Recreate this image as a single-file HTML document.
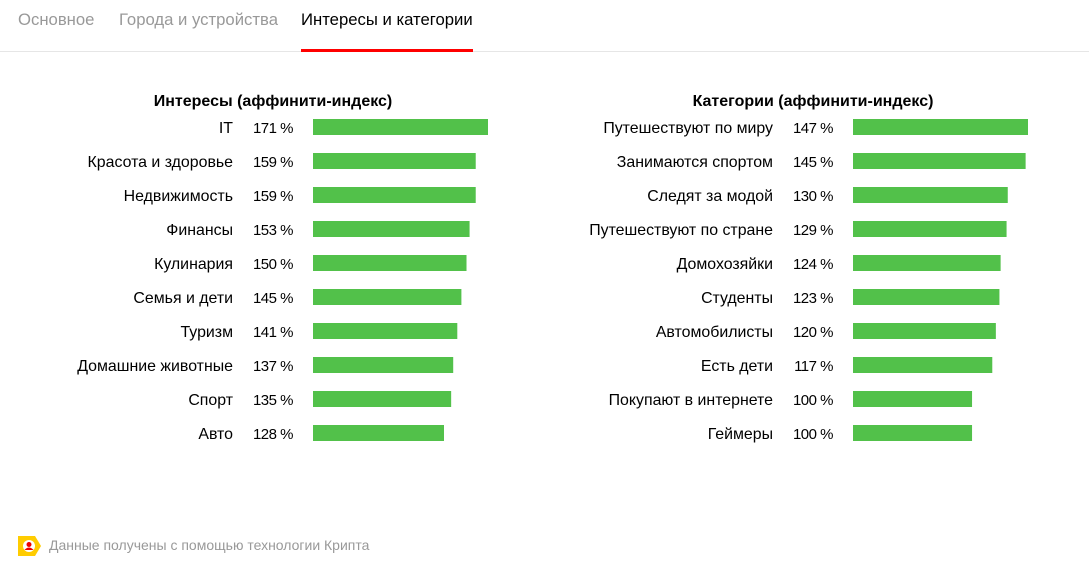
<!DOCTYPE html>
<html><head><meta charset="utf-8"><style>
body{margin:0;width:1089px;height:565px;background:#fff;font-family:"Liberation Sans",sans-serif;position:relative;overflow:hidden}
.tab{position:absolute;top:10px;font-size:16.7px;color:#999}
</style></head><body>
<div class="tab" style="left:18px">Основное</div>
<div class="tab" style="left:119px">Города и устройства</div>
<div class="tab" style="left:301px;color:#000">Интересы и категории</div>
<div style="position:absolute;left:0;top:51px;width:1089px;height:1px;background:#e6e6e6"></div>
<div style="position:absolute;left:301px;top:49px;width:172px;height:3px;background:#f00"></div>
<svg id="chart" width="1089" height="565" style="position:absolute;left:0;top:0"></svg>
<div style="position:absolute;left:18px;top:536px;width:20px;height:20px">
<svg width="24" height="20"><polygon points="0,0 17,0 23,10 17,20 0,20" fill="#fc0"/><circle cx="11" cy="10" r="6" fill="#fff"/><circle cx="11" cy="8.5" r="2.5" fill="#e00"/><path d="M6.5,14 Q11,9 15.5,14 Z" fill="#e00"/></svg></div>
<div style="position:absolute;left:49px;top:537px;font-size:14px;color:#999">Данные получены с помощью технологии Крипта</div>
<script>
const leftCats=["IT","Красота и здоровье","Недвижимость","Финансы","Кулинария","Семья и дети","Туризм","Домашние животные","Спорт","Авто"];
const leftVals=[171,159,159,153,150,145,141,137,135,128];
const rightCats=["Путешествуют по миру","Занимаются спортом","Следят за модой","Путешествуют по стране","Домохозяйки","Студенты","Автомобилисты","Есть дети","Покупают в интернете","Геймеры"];
const rightVals=[147,145,130,129,124,123,120,117,100,100];
const svg=document.getElementById('chart');
const NS='http://www.w3.org/2000/svg';
function mk(tag,attrs,txt){const e=document.createElementNS(NS,tag);for(const k in attrs)e.setAttribute(k,attrs[k]);if(txt!=null)e.textContent=txt;svg.appendChild(e);return e;}
function panel(title,cats,vals,labelX,pctX,barX,titleX,prefix){
  const mx=Math.max(...vals);
  const xs=v=>v/mx*175;
  const ys=i=>127+i*34;
  const t=mk('text',{x:titleX,y:106,'text-anchor':'middle','font-size':16,'font-weight':'bold','font-family':'Liberation Sans, sans-serif'},title);
  
  
  cats.forEach((c,i)=>{
    const l=mk('text',{x:labelX,y:ys(i)+6,'text-anchor':'end','font-size':15.9,'font-family':'Liberation Sans, sans-serif'},c);
    
    
    const p=mk('text',{x:pctX,y:ys(i)+6,'text-anchor':'end','font-size':15,'font-family':'Liberation Sans, sans-serif','letter-spacing':'-0.5'},vals[i]+' %');
    
    
    const b=mk('rect',{x:barX,y:ys(i)-8,width:xs(vals[i]),height:16,fill:'#52c14a'});
    
    
  });
}
panel('Интересы (аффинити-индекс)',leftCats,leftVals,233,293,313,273,'interests');
panel('Категории (аффинити-индекс)',rightCats,rightVals,773,833,853,813,'categories');
</script>
</body></html>
